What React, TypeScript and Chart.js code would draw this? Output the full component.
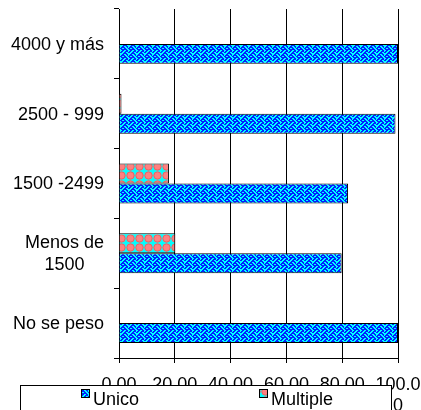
import React, { useEffect, useRef } from "react";
import { Chart, registerables } from "chart.js";

Chart.register(...registerables);

const categories: string[][] = [["4000 y más"], ["2500 - 999"], ["1500 -2499"], ["Menos de", "1500"], ["No se peso"]];
const unico: number[] = [100, 99.1, 82.1, 79.8, 100];
const multiple: number[] = [0, 0.9, 17.9, 20.2, 0];
const seriesNames: string[] = ["Unico", "Multiple"];
const xTicks: number[] = [0, 20, 40, 60, 80, 100];

const FONT = "'Liberation Sans', Arial, sans-serif";

function makeWeave(): CanvasPattern | string {
  const bits = [0x88, 0x54, 0x22, 0x45, 0x88, 0x14, 0x22, 0x51];
  const c = document.createElement("canvas");
  c.width = 8;
  c.height = 8;
  const g = c.getContext("2d");
  if (!g) return "#00ffff";
  g.fillStyle = "#00ffff";
  g.fillRect(0, 0, 8, 8);
  g.fillStyle = "#0022ff";
  for (let r = 0; r < 8; r++) {
    const b = bits[r] | (bits[r] >> 1);
    for (let col = 0; col < 8; col++) {
      if (b & (0x80 >> col)) g.fillRect(col, r, 1, 1);
    }
  }
  return g.createPattern(c, "repeat") || "#00ffff";
}

function makeSpheres(): CanvasPattern | string {
  const c = document.createElement("canvas");
  c.width = 9;
  c.height = 9;
  const g = c.getContext("2d");
  if (!g) return "#ff8080";
  g.fillStyle = "#00ffff";
  g.fillRect(0, 0, 9, 9);
  g.fillStyle = "#ff8080";
  g.beginPath();
  g.arc(4.5, 4.5, 4, 0, Math.PI * 2);
  g.fill();
  g.strokeStyle = "#e06060";
  g.lineWidth = 0.8;
  g.beginPath();
  g.arc(4.5, 4.5, 3.6, 0, Math.PI * 2);
  g.stroke();
  return g.createPattern(c, "repeat") || "#ff8080";
}

export default function App() {
  const ref = useRef<HTMLCanvasElement | null>(null);
  useEffect(() => {
    const canvas = ref.current;
    if (!canvas) return;
    const weave = makeWeave();
    const sphere = makeSpheres();

    const labelPlugin = {
      id: "customLabels",
      afterDraw(chart: any) {
        const ctx = chart.ctx as CanvasRenderingContext2D;
        const y = chart.scales.y;
        ctx.save();
        ctx.font = `18px ${FONT}`;
        ctx.fillStyle = "#000";
        ctx.textBaseline = "middle";
        ctx.textAlign = "center";
        const lh = 21.6;
        const right = 104;
        categories.forEach((lines, i) => {
          const cy = y.getPixelForValue(i);
          const w = Math.max(...lines.map((l) => ctx.measureText(l).width));
          const cx = right - w / 2;
          const top = cy - ((lines.length - 1) * lh) / 2;
          lines.forEach((l, k) => ctx.fillText(l, cx, top + k * lh + 1));
        });

        // legend box
        ctx.fillStyle = "#fff";
        ctx.fillRect(20, 385, 372, 30);
        ctx.strokeStyle = "#000";
        ctx.lineWidth = 1;
        ctx.strokeRect(20.5, 385.5, 371, 40);
        const items = [
          { x: 81, fill: weave, name: seriesNames[0] },
          { x: 259, fill: sphere, name: seriesNames[1] },
        ];
        ctx.textAlign = "left";
        ctx.font = `18px ${FONT}`;
        items.forEach((it) => {
          ctx.fillStyle = it.fill as any;
          ctx.fillRect(it.x, 389, 9, 9);
          ctx.strokeStyle = "#000";
          ctx.strokeRect(it.x + 0.5, 389.5, 8, 8);
          ctx.fillStyle = "#000";
          ctx.fillText(it.name, it.x + 12, 400);
        });
        ctx.restore();
      },
    };

    const chart = new Chart(canvas, {
      type: "bar",
      data: {
        labels: categories.map((c) => c.join(" ")),
        datasets: [
          {
            label: seriesNames[1],
            data: multiple,
            backgroundColor: sphere as any,
            borderColor: "#000",
            borderWidth: 1,
            categoryPercentage: 0.571,
            barPercentage: 1,
          },
          {
            label: seriesNames[0],
            data: unico,
            backgroundColor: weave as any,
            borderColor: "#000",
            borderWidth: 1,
            categoryPercentage: 0.571,
            barPercentage: 1,
          },
        ],
      },
      options: {
        indexAxis: "y",
        responsive: false,
        animation: false,
        devicePixelRatio: 1,
        layout: { padding: { top: 9, right: 23, left: 0, bottom: 0 } },
        plugins: { legend: { display: false }, tooltip: { enabled: false } },
        scales: {
          x: {
            min: 0,
            max: 100,
            afterFit: (s: any) => {
              s.height = 52;
              s.paddingLeft = 0;
              s.paddingRight = 0;
            },
            afterBuildTicks: (s: any) => {
              s.ticks = xTicks.map((v) => ({ value: v }));
            },
            grid: { color: "#000", lineWidth: 1, tickLength: 5, drawTicks: true },
            border: { color: "#000", width: 1 },
            ticks: {
              autoSkip: false,
              maxRotation: 0,
              minRotation: 0,
              padding: 11,
              color: "#000",
              font: { family: FONT, size: 18 },
              callback: (v: any) => (Number(v) === 100 ? ["100.0", "0"] : Number(v).toFixed(2)),
            },
          },
          y: {
            afterFit: (s: any) => {
              s.width = 119;
              s.paddingTop = 0;
              s.paddingBottom = 0;
            },
            grid: { display: true, drawOnChartArea: false, color: "#000", tickLength: 5, offset: true },
            border: { color: "#000", width: 1 },
            ticks: { display: false },
          },
        },
      },
      plugins: [labelPlugin],
    });
    return () => chart.destroy();
  }, []);
  return (
    <canvas
      ref={ref}
      width={421}
      height={410}
      style={{ position: "fixed", left: 0, top: 0, width: 421, height: 410, background: "#fff" }}
    />
  );
}
